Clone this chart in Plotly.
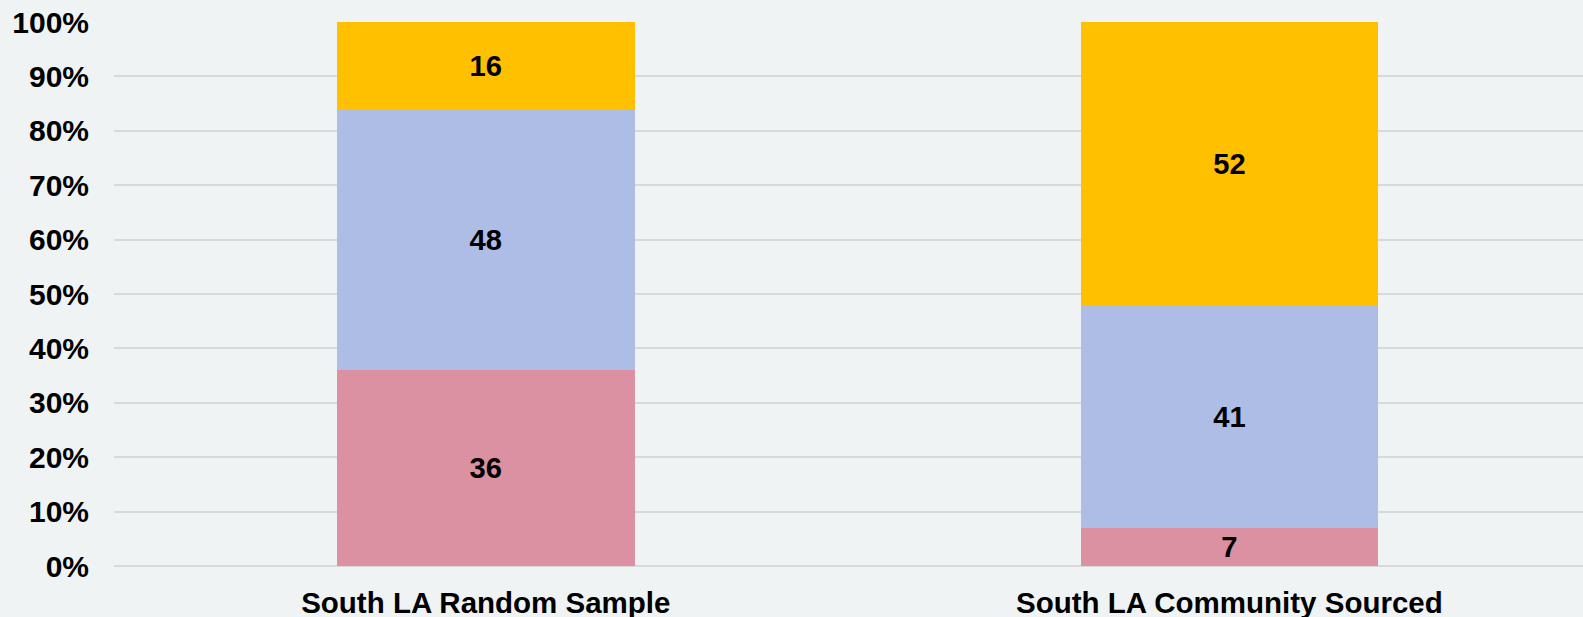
import plotly.graph_objects as go

categories = ["South LA Random Sample", "South LA Community Sourced"]
series_bottom = [36, 7]
series_middle = [48, 41]
series_top = [16, 52]
y_ticks = [0, 10, 20, 30, 40, 50, 60, 70, 80, 90, 100]
y_tick_labels = [f"{v}%" for v in y_ticks]

colors = ["#DB91A1", "#ADBDE5", "#FFC000"]
family = "Liberation Sans, Arial, sans-serif"
bg = "#EFF3F4"

fig = go.Figure()
for vals, col in zip([series_bottom, series_middle, series_top], colors):
    fig.add_trace(go.Bar(
        x=categories, y=vals, marker=dict(color=col, line=dict(width=0)),
        text=[str(v) for v in vals], textposition="inside",
        insidetextanchor="middle", textangle=0,
        textfont=dict(family=family, size=30, color="#000000", weight="bold"),
        showlegend=False,
    ))

fig.update_layout(
    barmode="stack", bargap=0.6,
    width=1583, height=617,
    margin=dict(l=114, r=0, t=22, b=51, autoexpand=False),
    paper_bgcolor=bg, plot_bgcolor=bg,
    font=dict(family=family, size=30, color="#000000"),
    uniformtext=dict(minsize=20, mode="show"),
)
fig.update_xaxes(
    range=[-0.5, 1.4755], automargin=False,
    tickfont=dict(family=family, size=29.5, color="#000000", weight="bold"),
    showgrid=False, showline=False, ticks="", ticklabelstandoff=16,
)
fig.update_yaxes(
    range=[0, 100], tickvals=y_ticks, ticktext=y_tick_labels, automargin=False,
    tickfont=dict(family=family, size=30, color="#000000", weight="bold"),
    showgrid=True, gridcolor="#D9D9D9", gridwidth=2,
    zeroline=True, zerolinecolor="#D9D9D9", zerolinewidth=2,
    showline=False, ticks="", ticklabelstandoff=24,
)
fig.write_html(
    "out.html",
    config={"displayModeBar": False},
    post_script="document.body.style.margin='0';document.body.style.background='#EFF3F4';document.body.style.overflow='hidden';",
)
